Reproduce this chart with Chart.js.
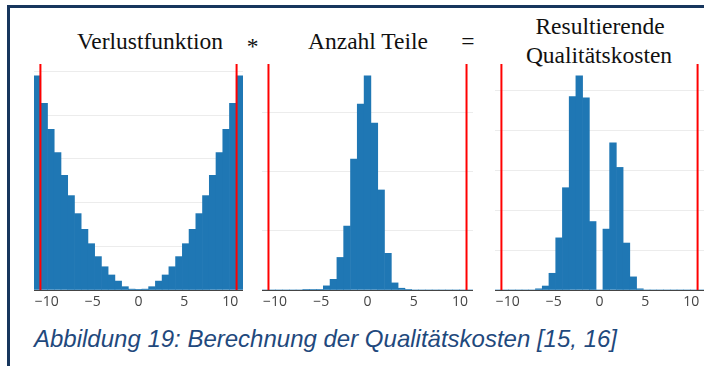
<!DOCTYPE html>
<html>
<head>
<meta charset="utf-8">
<script src="https://cdn.jsdelivr.net/npm/chart.js@4.4.1/dist/chart.umd.min.js"></script>
<style>
  body { margin:0; background:#fff; width:704px; height:366px; overflow:hidden; position:relative; }
  #marco { position:absolute; left:7px; top:5px; width:720px; height:400px; border-left:3px solid #17365d; border-top:3px solid #17365d; }
  canvas { position:absolute; }
  .tit { position:absolute; font-family:"Liberation Serif","Times New Roman",serif; font-size:23.5px; line-height:23.5px; color:#111; white-space:nowrap; transform:translateX(-50%); }
  #pie { position:absolute; left:34px; top:326.5px; font-family:"Liberation Sans",Arial,sans-serif; font-style:italic; font-size:24px; line-height:24px; color:#1f497d; white-space:nowrap; transform-origin:0 0; }
</style>
</head>
<body>
<div id="marco"></div>

<div class="tit" style="left:150px; top:30px;">Verlustfunktion</div>
<div class="tit" style="left:252.5px; top:35px;">*</div>
<div class="tit" style="left:468px; top:30px;">=</div>
<div class="tit" style="left:368px; top:30px;">Anzahl Teile</div>
<div class="tit" style="left:600px; top:15px;">Resultierende</div>
<div class="tit" style="left:599px; top:43.5px;">Qualitätskosten</div>

<canvas id="g1" width="209" height="246" style="left:34px; top:64px;"></canvas>
<canvas id="g2" width="211" height="246" style="left:262px; top:64px;"></canvas>
<canvas id="g3" width="209" height="246" style="left:495px; top:64px;"></canvas>

<div id="pie">Abbildung 19: Berechnung der Qualitätskosten [15, 16]</div>

<script>
// centros de las clases del histograma
const centros = [-11.03, -10.29, -9.56, -8.82, -8.09, -7.35, -6.62, -5.88, -5.15, -4.41, -3.68, -2.94, -2.21, -1.47, -0.74, 0,
                 0.74, 1.47, 2.21, 2.94, 3.68, 4.41, 5.15, 5.88, 6.62, 7.35, 8.09, 8.82, 9.56, 10.29, 11.03];

const verlust = [122.6, 106.8, 91.9, 78.6, 65.6, 54.0, 43.7, 34.7, 26.5, 19.1, 13.3, 8.6, 5.1, 1.9, 0.5, 0.2,
                 0.5, 1.9, 5.1, 8.6, 13.3, 19.1, 26.5, 34.7, 43.7, 54.0, 65.6, 78.6, 91.9, 106.8, 122.6];

const teile = [0, 0, 0, 0, 0, 0, 1, 1, 1, 7, 18, 55, 108, 221, 314, 362,
               282, 169, 62, 12, 3, 1, 0, 0, 0, 0, 0, 0, 0, 0, 0];

const kosten = [0, 0, 0, 0, 0, 0, 3, 10, 42, 131, 257, 486, 538, 483, 172, 0,
                153, 370, 308, 118, 33, 3, 0, 0, 0, 0, 0, 0, 0, 0, 0];

const xTicks = [-10, -5, 0, 5, 10];
const limite = 10.7; // lineas rojas (tolerancia)

const yTicks1 = [25, 50, 75, 100, 125];
const yTicks2 = [100, 200, 300];
const yTicks3 = [100, 200, 300, 400, 500];

function hacerGrafica(id, valores, yMax, yTicks) {
    let puntos = centros.map(function(c, i) { return {x: c, y: valores[i]}; });

    new Chart(document.getElementById(id), {
        type: 'bar',
        data: {
            datasets: [
                {type: 'line', data: [{x: -limite, y: 0}, {x: -limite, y: yMax}], borderColor: '#ff0000', borderWidth: 2, pointRadius: 0, order: 0},
                {type: 'line', data: [{x: limite, y: 0}, {x: limite, y: yMax}], borderColor: '#ff0000', borderWidth: 2, pointRadius: 0, order: 0},
                {type: 'bar', data: puntos, backgroundColor: '#1f77b4', borderWidth: 0, barPercentage: 1, categoryPercentage: 1, order: 1}
            ]
        },
        options: {
            responsive: false,
            animation: false,
            plugins: { legend: {display: false}, tooltip: {enabled: false} },
            layout: { padding: 0 },
            scales: {
                x: {
                    type: 'linear', min: -11.4, max: 11.4, offset: false,
                    grid: {display: false, offset: false},
                    border: {color: '#444', width: 1},
                    afterBuildTicks: function(ax) { ax.ticks = xTicks.map(function(v) { return {value: v}; }); },
                    afterFit: function(ax) { ax.height = 20; },
                    ticks: {
                        color: '#444', font: {family: '"Open Sans", sans-serif', size: 14}, padding: -4,
                        maxRotation: 0, autoSkip: false,
                        callback: function(v) { return v < 0 ? '\u2212' + Math.abs(v) : '' + v; }
                    }
                },
                y: {
                    min: 0, max: yMax,
                    afterBuildTicks: function(ax) { ax.ticks = [0].concat(yTicks).map(function(v) { return {value: v}; }); },
                    afterFit: function(ax) { ax.width = 0; },
                    ticks: {display: false},
                    border: {display: false},
                    grid: {
                        drawTicks: false,
                        color: function(ctx) { return ctx.tick && ctx.tick.value > 0 ? '#ececec' : 'rgba(0,0,0,0)'; }
                    }
                }
            }
        }
    });
}

hacerGrafica('g1', verlust, 129.3, yTicks1);
hacerGrafica('g2', teile, 381.8, yTicks2);
hacerGrafica('g3', kosten, 567.8, yTicks3);

// ajustar el ancho del pie de figura
let pie = document.getElementById('pie');
let ancho = pie.getBoundingClientRect().width;
pie.style.transform = 'scaleX(' + (583 / ancho) + ')';
</script>
</body>
</html>
